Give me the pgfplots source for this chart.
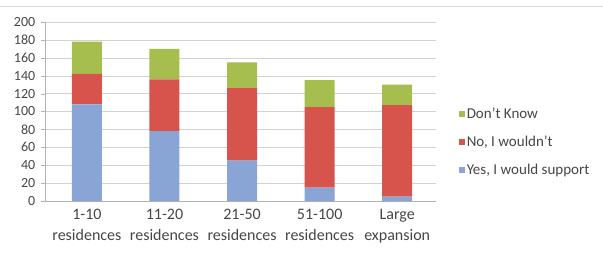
\documentclass[border=0pt]{standalone}
\usepackage{pgfplots}
\pgfplotsset{compat=1.18}
\usepackage{fontspec}
\setmainfont{Carlito}
\definecolor{cblue}{RGB}{137,165,214}
\definecolor{cred}{RGB}{214,84,76}
\definecolor{cgreen}{RGB}{166,190,78}
\definecolor{ctext}{RGB}{70,70,70}
\begin{document}
\begin{tikzpicture}
\begin{axis}[
  scale only axis, width=391pt, height=179pt,
  ybar stacked, bar width=30pt,
  xmin=-0.54, xmax=4.5, ymin=0, ymax=200,
  ytick={0,20,...,200},
  xtick={0,1,2,3,4},
  xticklabels={{1-10\\residences},{11-20\\residences},{21-50\\residences},{51-100\\residences},{Large\\expansion}},
  xticklabel style={align=center, font=\fontsize{16}{21}\selectfont, text=ctext},
  yticklabel style={font=\fontsize{14}{16}\selectfont, text=ctext, xshift=-2pt},
  /pgf/number format/assume math mode=true,
  axis x line*=bottom, axis y line*=left,
  axis line style={gray!60},
  major x tick style={draw=none},
  major y tick style={gray!60},
  tick align=outside,
  ymajorgrids, major grid style={gray!35},
  reverse legend,
  legend style={at={(1.05,0.33)}, anchor=west, draw=none, fill=none,
    font=\fontsize{15}{18}\selectfont, text=ctext, row sep=12pt},
  legend cell align=left,
  legend image code/.code={\fill[#1] (0pt,-3pt) rectangle (6pt,3pt);},
]
\addplot[fill=cblue, draw=none] coordinates {(0,108) (1,78) (2,45) (3,15) (4,5)};
\addplot[fill=cred, draw=none] coordinates {(0,34) (1,58) (2,81) (3,90) (4,102)};
\addplot[fill=cgreen, draw=none] coordinates {(0,36) (1,34) (2,29) (3,30) (4,23)};
\legend{{Yes, I would support},{No, I wouldn't},{Don't Know}}
\coordinate (sw) at (rel axis cs:0,0);
\end{axis}
\draw[gray!30, line width=1pt] (sw) ++(-45pt,195pt) -- ++(603pt,0pt);
\pgfresetboundingbox
\path (sw) ++(-45pt,-57pt) rectangle ++(603pt,258pt);
\end{tikzpicture}
\end{document}
